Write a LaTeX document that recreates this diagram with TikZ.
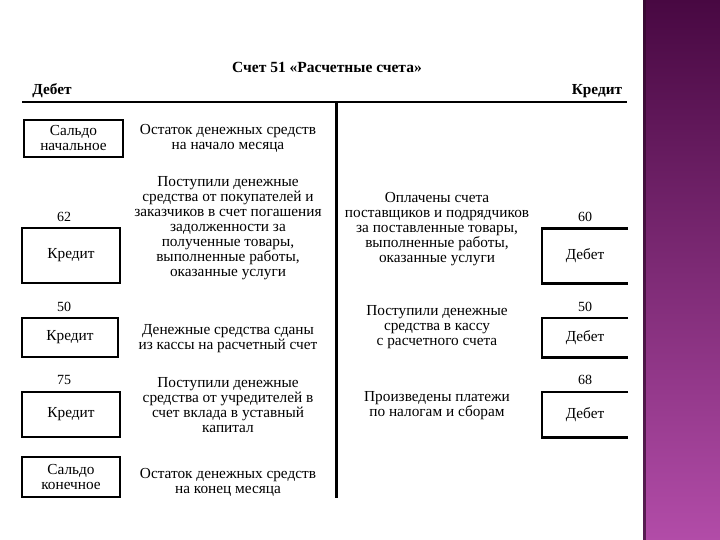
\documentclass[tikz,border=0pt]{standalone}
\usepackage{fontspec}
\setmainfont{Liberation Serif}
\definecolor{bandtop}{RGB}{72,8,66}
\definecolor{bandbot}{RGB}{178,76,168}
\definecolor{bandedge}{RGB}{50,10,45}
\begin{document}
\begin{tikzpicture}[x=1pt,y=-1pt,
  every node/.style={font=\fontsize{15.3}{15}\selectfont, inner sep=0pt},
  lbox/.style={draw, line width=2.6pt, minimum width=#1, align=center},
  rbox/.style={minimum width=86pt, minimum height=#1, align=center},
  txt/.style={align=center},
  num/.style={font=\fontsize{14}{15}\selectfont}
]
\useasboundingbox (0,0) rectangle (720,540);
% purple band
\shade[top color=bandtop, bottom color=bandbot] (643,0) rectangle (720,540);
\fill[bandedge, opacity=0.7] (643,0) rectangle (645.5,540);

% title and headers
\node[font=\bfseries\fontsize{15.5}{16}\selectfont] (title) at (327,67) {Счет 51 «Расчетные счета»};
\node[font=\bfseries\fontsize{15.3}{15}\selectfont] (deb) at (52,91) {Дебет};
\node[font=\bfseries\fontsize{15.3}{15}\selectfont] (kred) at (597,91) {Кредит};
\coordinate (hl) at (22,102);
\coordinate (hr) at (627,102);
\draw[line width=1.3pt] (hl) -- (hr);
\coordinate (vt) at (336,102);
\coordinate (vb) at (336,498);
\draw[line width=3pt] (vt) -- (vb);

% row 1
\node[lbox=99pt, minimum height=37pt] (sn) at (73.5,138.5) {Сальдо\\начальное};
\node[txt] (t1) at (228,138) {Остаток денежных средств\\на начало месяца};

% row 2
\node[num] (n62) at (64,217) {62};
\node[lbox=98pt, minimum height=55pt] (k62) at (71,255.5) {Кредит};
\node[txt] (t2) at (228,228.5) {Поступили денежные\\средства от покупателей и\\заказчиков в счет погашения\\задолженности за\\полученные товары,\\выполненные работы,\\оказанные услуги};
\node[txt] (t3) at (437,229) {Оплачены счета\\поставщиков и подрядчиков\\за поставленные товары,\\выполненные работы,\\оказанные услуги};
\node[num] (n60) at (585,217) {60};
\node[rbox=55pt] (d60) at (585,256) {Дебет};
\draw[line width=2.6pt] (d60.north east) -- (d60.north west) -- (d60.south west) -- (d60.south east);

% row 3
\node[num] (n50l) at (64,307) {50};
\node[lbox=96pt, minimum height=39pt] (k50) at (70,337.5) {Кредит};
\node[txt] (t4) at (228,338.5) {Денежные средства сданы\\из кассы на расчетный счет};
\node[txt] (t5) at (437,327.5) {Поступили денежные\\средства в кассу\\с расчетного счета};
\node[num] (n50r) at (585,307) {50};
\node[rbox=39pt] (d50) at (585,337.5) {Дебет};
\draw[line width=2.6pt] (d50.north east) -- (d50.north west) -- (d50.south west) -- (d50.south east);

% row 4
\node[num] (n75) at (64,380) {75};
\node[lbox=98pt, minimum height=45pt] (k75) at (71,414.5) {Кредит};
\node[txt] (t6) at (228,405) {Поступили денежные\\средства от учредителей в\\счет вклада в уставный\\капитал};
\node[txt] (t7) at (437,405.5) {Произведены платежи\\по налогам и сборам};
\node[num] (n68) at (585,380) {68};
\node[rbox=45pt] (d68) at (585,414.5) {Дебет};
\draw[line width=2.6pt] (d68.north east) -- (d68.north west) -- (d68.south west) -- (d68.south east);

% row 5
\node[lbox=98pt, minimum height=40pt] (sk) at (71,477) {Сальдо\\конечное};
\node[txt] (t8) at (228,482.5) {Остаток денежных средств\\на конец месяца};
\end{tikzpicture}
\end{document}
